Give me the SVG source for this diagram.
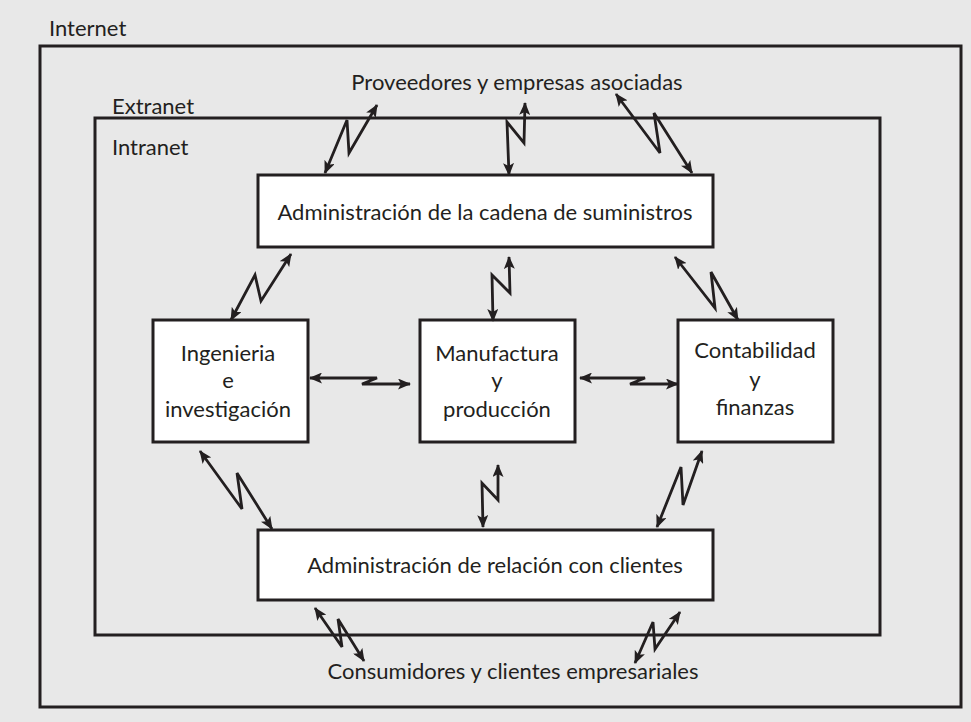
<svg xmlns="http://www.w3.org/2000/svg" width="971" height="722" viewBox="0 0 971 722">
<style>
.bg{fill:#e8e8e8}
.frame{fill:none;stroke:#231f20;stroke-width:3}
.box{fill:#ffffff;stroke:#231f20;stroke-width:3}
text{font-family:Lato,"Open Sans","Liberation Sans",sans-serif;font-size:22px;fill:#231f20}
.c{text-anchor:middle}
.conn path{fill:none;stroke:#231f20;stroke-width:2.8;stroke-linejoin:miter;marker-start:url(#ah);marker-end:url(#ah)}
</style>
<defs>
<marker id="ah" viewBox="0 0 13 11" refX="12" refY="5.5" markerWidth="13" markerHeight="11" markerUnits="userSpaceOnUse" orient="auto-start-reverse">
<path d="M0,0 L13,5.5 L0,11 L3,5.5 Z" fill="#231f20"/>
</marker>
</defs>
<rect class="bg" x="0" y="0" width="971" height="722"/>
<g id="internet">
<rect class="frame" x="40" y="46" width="921" height="661"/>
<text x="49" y="36">Internet</text>
</g>
<g id="extranet">
<rect class="frame" x="95" y="118" width="785" height="517"/>
<text x="112" y="114">Extranet</text>
<text x="112" y="155">Intranet</text>
</g>
<g id="proveedores">
<text class="c" x="517" y="90">Proveedores y empresas asociadas</text>
</g>
<g id="consumidores">
<text class="c" x="513" y="679">Consumidores y clientes empresariales</text>
</g>
<g id="scm">
<rect class="box" x="258" y="175" width="455" height="72"/>
<text class="c" x="485" y="220">Administración de la cadena de suministros</text>
</g>
<g id="ingenieria">
<rect class="box" x="153" y="320" width="155" height="122"/>
<text class="c" x="228" y="361">Ingenieria</text>
<text class="c" x="228" y="388">e</text>
<text class="c" x="228" y="417">investigación</text>
</g>
<g id="manufactura">
<rect class="box" x="420" y="320" width="155" height="122"/>
<text class="c" x="497" y="361">Manufactura</text>
<text class="c" x="497" y="388">y</text>
<text class="c" x="497" y="417">producción</text>
</g>
<g id="contabilidad">
<rect class="box" x="678" y="320" width="155" height="122"/>
<text class="c" x="755" y="358">Contabilidad</text>
<text class="c" x="755" y="387">y</text>
<text class="c" x="755" y="415">finanzas</text>
</g>
<g id="crm">
<rect class="box" x="258" y="530" width="455" height="70"/>
<text class="c" x="495" y="573">Administración de relación con clientes</text>
</g>
<g id="connectors" class="conn">
<path d="M325,173 L347,120 L349,153 L377,105"/>
<path d="M525,103 L524,143 L507,122 L509,175"/>
<path d="M616,94 L660,153 L654,113 L692,173"/>
<path d="M231,320 L255,275 L261,301 L291,254"/>
<path d="M509,257 L510,293 L492,275 L493,321"/>
<path d="M675,257 L715,308 L711,272 L738,320"/>
<path d="M310,378 L377,378 L362,384 L410,384"/>
<path d="M580,378 L645,378 L630,384 L678,384"/>
<path d="M200,451 L242,509 L237,473 L272,529"/>
<path d="M498,465 L498,500 L482,483 L483,527"/>
<path d="M657,527 L681,467 L683,505 L702,451"/>
<path d="M315,608 L342,647 L338,619 L364,661"/>
<path d="M635,663 L653,622 L655,649 L680,612"/>
</g>
</svg>
